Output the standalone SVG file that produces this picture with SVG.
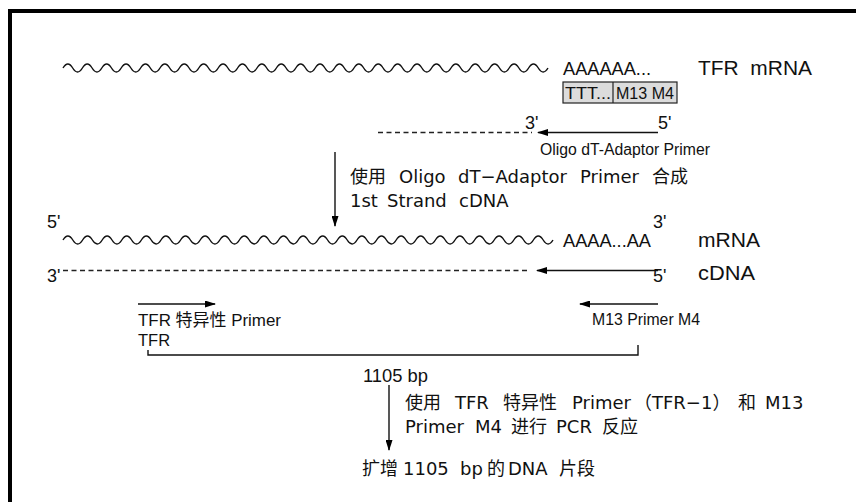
<svg xmlns="http://www.w3.org/2000/svg" width="856" height="502" viewBox="0 0 856 502">
<defs>
<marker id="ah" markerWidth="11" markerHeight="7" refX="10" refY="3.5" orient="auto" markerUnits="userSpaceOnUse">
<path d="M0,0 L11,3.5 L0,7 z" fill="#000"/>
</marker>
<style>
.t{font-family:"Liberation Sans","Noto Sans CJK SC",sans-serif;fill:#111}
.d{font-family:"DejaVu Sans","Noto Sans CJK SC",sans-serif;fill:#111;font-size:18px}
.ln{stroke:#111;stroke-width:1.4;fill:none}
.ds{stroke:#222;stroke-width:1.4;fill:none;stroke-dasharray:5 3.5}
.wv{stroke:#111;stroke-width:1.4;fill:none}
</style>
</defs>
<rect width="856" height="502" fill="#fff"/>
<path d="M10,502 V11 H856" fill="none" stroke="#000" stroke-width="4"/>

<g id="tfr-mrna">
<path class="wv" d="M63,68 q4.85,-8 9.7,0 t9.7,0 t9.7,0 t9.7,0 t9.7,0 t9.7,0 t9.7,0 t9.7,0 t9.7,0 t9.7,0 t9.7,0 t9.7,0 t9.7,0 t9.7,0 t9.7,0 t9.7,0 t9.7,0 t9.7,0 t9.7,0 t9.7,0 t9.7,0 t9.7,0 t9.7,0 t9.7,0 t9.7,0 t9.7,0 t9.7,0 t9.7,0 t9.7,0 t9.7,0 t9.7,0 t9.7,0 t9.7,0 t9.7,0 t9.7,0 t9.7,0 t9.7,0 t9.7,0 t9.7,0 t9.7,0 t9.7,0 t9.7,0 t9.7,0 t9.7,0 t9.7,0 t9.7,0 t9.7,0 t9.7,0 t9.7,0 t9.7,0"/>
<text class="t" x="563" y="75" font-size="19" textLength="88" lengthAdjust="spacingAndGlyphs">AAAAAA...</text>
<text class="t" x="698" y="75" font-size="20.5" xml:space="preserve" textLength="114" lengthAdjust="spacingAndGlyphs">TFR  mRNA</text>
</g>

<g id="adaptor-box">
<rect x="563" y="82" width="114" height="21" fill="#dcdcdc" stroke="#222" stroke-width="1.2"/>
<line x1="613" y1="82" x2="613" y2="103" stroke="#222" stroke-width="1.2"/>
<text class="t" x="565" y="99" font-size="16" textLength="46" lengthAdjust="spacingAndGlyphs">TTT...</text>
<text class="t" x="616" y="99" font-size="16" textLength="58" lengthAdjust="spacingAndGlyphs">M13 M4</text>
</g>

<g id="oligo-primer">
<text class="t" x="525" y="129" font-size="18">3'</text>
<text class="t" x="658" y="129" font-size="18">5'</text>
<text class="t" x="540" y="155" font-size="16" textLength="170" lengthAdjust="spacingAndGlyphs">Oligo dT-Adaptor Primer</text>
</g>

<g id="step1-label">
<text class="d" y="183"><tspan x="350">使用</tspan><tspan x="399">Oligo</tspan><tspan x="458">dT−Adaptor</tspan><tspan x="580">Primer</tspan><tspan x="652">合成</tspan></text>
<text class="d" y="207"><tspan x="350">1st</tspan><tspan x="387">Strand</tspan><tspan x="459">cDNA</tspan></text>
</g>

<g id="hybrid">
<text class="t" x="47" y="228" font-size="18">5'</text>
<path class="wv" d="M63,240 q4.9,-8 9.8,0 t9.8,0 t9.8,0 t9.8,0 t9.8,0 t9.8,0 t9.8,0 t9.8,0 t9.8,0 t9.8,0 t9.8,0 t9.8,0 t9.8,0 t9.8,0 t9.8,0 t9.8,0 t9.8,0 t9.8,0 t9.8,0 t9.8,0 t9.8,0 t9.8,0 t9.8,0 t9.8,0 t9.8,0 t9.8,0 t9.8,0 t9.8,0 t9.8,0 t9.8,0 t9.8,0 t9.8,0 t9.8,0 t9.8,0 t9.8,0 t9.8,0 t9.8,0 t9.8,0 t9.8,0 t9.8,0 t9.8,0 t9.8,0 t9.8,0 t9.8,0 t9.8,0 t9.8,0 t9.8,0 t9.8,0 t9.8,0 t9.8,0"/>
<text class="t" x="563" y="247" font-size="19" textLength="88" lengthAdjust="spacingAndGlyphs">AAAA...AA</text>
<text class="t" x="653" y="228" font-size="18">3'</text>
<text class="t" x="698" y="247" font-size="20.5" textLength="62" lengthAdjust="spacingAndGlyphs">mRNA</text>
<text class="t" x="47" y="282" font-size="18">3'</text>
<text class="t" x="653" y="282" font-size="18">5'</text>
<text class="t" x="698" y="280" font-size="20.5" textLength="57" lengthAdjust="spacingAndGlyphs">cDNA</text>
</g>

<g id="pcr-primers">
<text class="t" x="138" y="326" font-size="16.5" textLength="143" lengthAdjust="spacingAndGlyphs">TFR 特异性 Primer</text>
<text class="t" x="138" y="346" font-size="16.5">TFR</text>
<text class="t" x="592" y="325" font-size="16" textLength="108" lengthAdjust="spacingAndGlyphs">M13 Primer M4</text>
</g>

<g id="product">
<path class="ln" d="M148,350 V355 H638 V345"/>
<text class="t" x="363" y="382" font-size="17.5" textLength="65" lengthAdjust="spacingAndGlyphs">1105 bp</text>
</g>

<g id="step2-label">
<text class="d" y="409"><tspan x="405">使用</tspan><tspan x="455">TFR</tspan><tspan x="503">特异性</tspan><tspan x="572">Primer</tspan><tspan x="634">（TFR−1）</tspan><tspan x="738">和</tspan><tspan x="765">M13</tspan></text>
<text class="d" y="433"><tspan x="405">Primer</tspan><tspan x="475">M4</tspan><tspan x="511">进行</tspan><tspan x="556">PCR</tspan><tspan x="602">反应</tspan></text>
</g>

<g id="result">
<text class="d" y="475"><tspan x="362">扩增</tspan><tspan x="403">1105</tspan><tspan x="460">bp</tspan><tspan x="487">的</tspan><tspan x="508">DNA</tspan><tspan x="559">片段</tspan></text>
</g>

<g id="connectors">
<line class="ds" x1="378" y1="132.5" x2="532" y2="132.5"/>
<line class="ln" x1="658" y1="132.5" x2="538" y2="132.5" marker-end="url(#ah)"/>
<line class="ln" x1="335" y1="152" x2="335" y2="226" marker-end="url(#ah)"/>
<line class="ds" x1="63" y1="270.5" x2="528" y2="270.5"/>
<line class="ln" x1="658" y1="270.5" x2="537" y2="270.5" marker-end="url(#ah)"/>
<line class="ln" x1="138" y1="304" x2="215" y2="304" marker-end="url(#ah)"/>
<line class="ln" x1="658" y1="304" x2="580" y2="304" marker-end="url(#ah)"/>
<line class="ln" x1="389" y1="385" x2="389" y2="450" marker-end="url(#ah)"/>
</g>
</svg>
